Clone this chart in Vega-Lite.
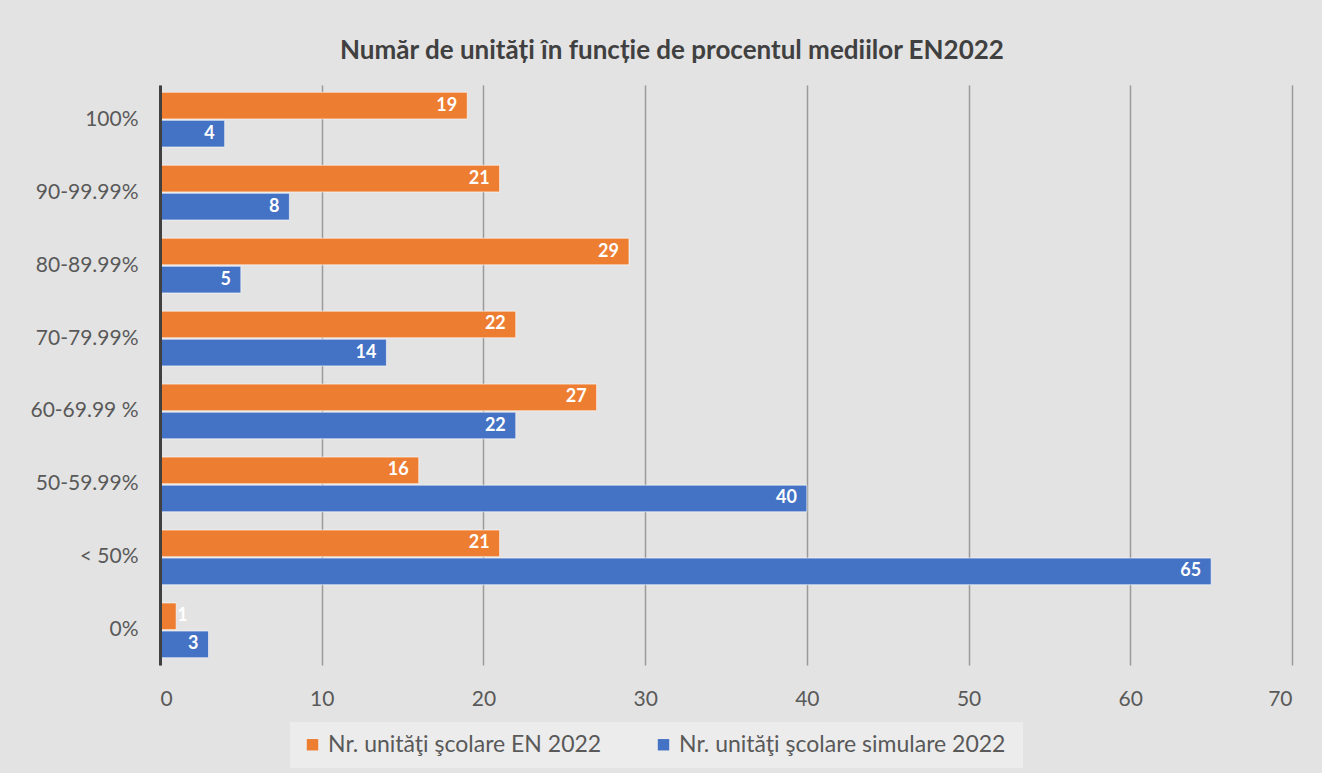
{
  "$schema": "https://vega.github.io/schema/vega-lite/v6.json",
  "width": 1132,
  "height": 580,
  "autosize": {"type": "pad"},
  "padding": {"left": 20, "top": 38, "right": 30, "bottom": 5},
  "background": "#e3e3e3",
  "title": {
    "text": "Număr de unități în funcție de procentul mediilor EN2022",
    "font": "Lato",
    "fontSize": 26,
    "fontWeight": "bold",
    "color": "#404040",
    "anchor": "middle",
    "frame": "group",
    "dx": -54,
    "offset": 21
  },
  "config": {"view": {"stroke": null}},
  "data": {
    "values": [
      {"cat": "100%", "series": "Nr. unităţi şcolare EN 2022", "value": 19},
      {"cat": "100%", "series": "Nr. unităţi şcolare  simulare 2022", "value": 4},
      {"cat": "90-99.99%", "series": "Nr. unităţi şcolare EN 2022", "value": 21},
      {"cat": "90-99.99%", "series": "Nr. unităţi şcolare  simulare 2022", "value": 8},
      {"cat": "80-89.99%", "series": "Nr. unităţi şcolare EN 2022", "value": 29},
      {"cat": "80-89.99%", "series": "Nr. unităţi şcolare  simulare 2022", "value": 5},
      {"cat": "70-79.99%", "series": "Nr. unităţi şcolare EN 2022", "value": 22},
      {"cat": "70-79.99%", "series": "Nr. unităţi şcolare  simulare 2022", "value": 14},
      {"cat": "60-69.99 %", "series": "Nr. unităţi şcolare EN 2022", "value": 27},
      {"cat": "60-69.99 %", "series": "Nr. unităţi şcolare  simulare 2022", "value": 22},
      {"cat": "50-59.99%", "series": "Nr. unităţi şcolare EN 2022", "value": 16},
      {"cat": "50-59.99%", "series": "Nr. unităţi şcolare  simulare 2022", "value": 40},
      {"cat": "< 50%", "series": "Nr. unităţi şcolare EN 2022", "value": 21},
      {"cat": "< 50%", "series": "Nr. unităţi şcolare  simulare 2022", "value": 65},
      {"cat": "0%", "series": "Nr. unităţi şcolare EN 2022", "value": 1},
      {"cat": "0%", "series": "Nr. unităţi şcolare  simulare 2022", "value": 3}
    ]
  },
  "encoding": {
    "y": {
      "field": "cat",
      "type": "nominal",
      "sort": ["100%", "90-99.99%", "80-89.99%", "70-79.99%", "60-69.99 %", "50-59.99%", "< 50%", "0%"],
      "scale": {"paddingInner": 0.25, "paddingOuter": 0.1},
      "axis": {
        "title": null,
        "ticks": false,
        "grid": false,
        "domainColor": "#404040",
        "domainWidth": 3,
        "labelFont": "Lato",
        "labelFontSize": 21,
        "labelColor": "#595959",
        "labelPadding": 22,
        "minExtent": 140,
        "maxExtent": 140,
        "zindex": 2
      }
    },
    "yOffset": {
      "field": "series",
      "type": "nominal",
      "sort": ["Nr. unităţi şcolare EN 2022", "Nr. unităţi şcolare  simulare 2022"],
      "scale": {"paddingInner": 0.05}
    },
    "x": {
      "field": "value",
      "type": "quantitative",
      "scale": {"domain": [0, 70], "nice": false},
      "axis": {
        "title": null,
        "values": [0, 10, 20, 30, 40, 50, 60, 70],
        "domain": false,
        "ticks": false,
        "grid": true,
        "gridColor": "#9a9a9a",
        "gridWidth": 1.5,
        "labelFont": "Lato",
        "labelFontSize": 21,
        "labelColor": "#595959",
        "labelPadding": 23
      }
    }
  },
  "layer": [
    {
      "mark": {"type": "bar", "stroke": "#ffffff", "strokeWidth": 1, "strokeOpacity": 0.6},
      "encoding": {
        "color": {
          "field": "series",
          "type": "nominal",
          "scale": {
            "domain": ["Nr. unităţi şcolare EN 2022", "Nr. unităţi şcolare  simulare 2022"],
            "range": ["#ED7D31", "#4472C4"]
          },
          "legend": {
            "title": null,
            "orient": "none",
            "legendX": 130,
            "legendY": 637,
            "direction": "horizontal",
            "fillColor": "#ececec",
            "padding": 11,
            "symbolType": "square",
            "symbolSize": 130,
            "symbolStrokeWidth": 0,
            "labelFont": "Lato",
            "labelFontSize": 23,
            "labelColor": "#595959",
            "labelLimit": 500,
            "columnPadding": 50
          }
        }
      }
    },
    {
      "transform": [{"filter": "datum.value >= 2"}],
      "mark": {"type": "text", "align": "right", "baseline": "middle", "dx": -10, "color": "#ffffff", "font": "Lato", "fontWeight": "bold", "fontSize": 18},
      "encoding": {"text": {"field": "value", "type": "quantitative"}}
    },
    {
      "transform": [{"filter": "datum.value < 2"}],
      "mark": {"type": "text", "align": "left", "baseline": "middle", "dx": 1, "color": "#ffffff", "font": "Lato", "fontWeight": "bold", "fontSize": 18},
      "encoding": {"text": {"field": "value", "type": "quantitative"}}
    }
  ]
}
